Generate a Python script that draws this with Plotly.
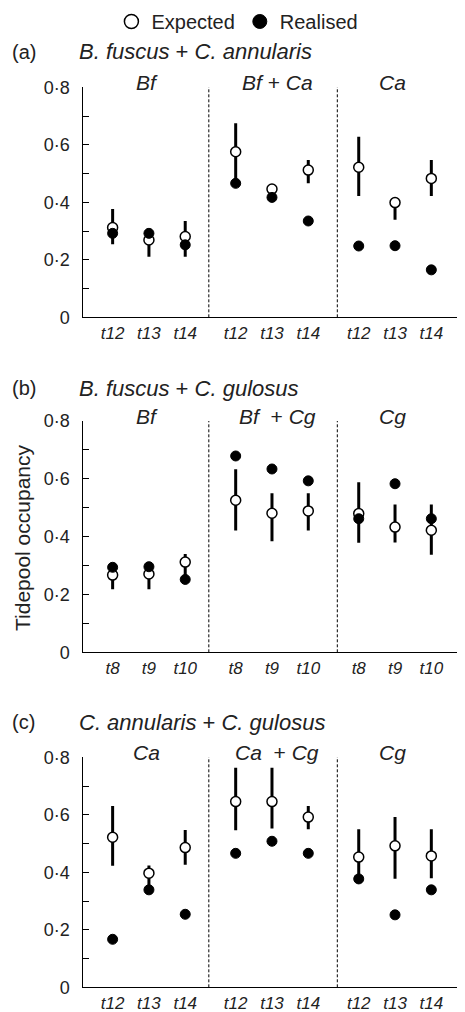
import plotly.graph_objects as go

PANEL_TAGS = ["(a)", "(b)", "(c)"]
PANEL_TITLES = [
    "<i>B. fuscus</i> + <i>C. annularis</i>",
    "<i>B. fuscus</i> + <i>C. gulosus</i>",
    "<i>C. annularis</i> + <i>C. gulosus</i>",
]
GROUP_LABELS = [
    ["<i>Bf</i>", "<i>Bf</i> + <i>Ca</i>", "<i>Ca</i>"],
    ["<i>Bf</i>", "<i>Bf</i>\u00a0 + <i>Cg</i>", "<i>Cg</i>"],
    ["<i>Ca</i>", "<i>Ca</i>\u00a0 + <i>Cg</i>", "<i>Cg</i>"],
]
TIMES = [["t12", "t13", "t14"], ["t8", "t9", "t10"], ["t12", "t13", "t14"]]
Y_TICKS = [0, 0.2, 0.4, 0.6, 0.8]
Y_TICK_TEXT = ["0", "0·2", "0·4", "0·6", "0·8"]

# Panel (a)
EXP_A = [0.312, 0.269, 0.281, 0.576, 0.446, 0.512, 0.522, 0.399, 0.483]
EXP_A_HI = [0.377, 0.300, 0.335, 0.675, 0.455, 0.547, 0.628, 0.414, 0.547]
EXP_A_LO = [0.254, 0.211, 0.211, 0.470, 0.430, 0.466, 0.422, 0.339, 0.422]
REAL_A = [0.292, 0.292, 0.252, 0.466, 0.417, 0.335, 0.248, 0.249, 0.165]
# Panel (b)
EXP_B = [0.267, 0.271, 0.312, 0.526, 0.481, 0.489, 0.480, 0.433, 0.422]
EXP_B_HI = [0.290, 0.290, 0.340, 0.633, 0.550, 0.550, 0.588, 0.511, 0.511]
EXP_B_LO = [0.218, 0.218, 0.260, 0.421, 0.384, 0.421, 0.379, 0.380, 0.337]
REAL_B = [0.294, 0.296, 0.252, 0.679, 0.634, 0.593, 0.462, 0.583, 0.462]
# Panel (c)
EXP_C = [0.522, 0.397, 0.486, 0.646, 0.646, 0.592, 0.453, 0.492, 0.457]
EXP_C_HI = [0.631, 0.424, 0.547, 0.764, 0.764, 0.631, 0.550, 0.592, 0.550]
EXP_C_LO = [0.423, 0.345, 0.426, 0.546, 0.552, 0.550, 0.380, 0.378, 0.379]
REAL_C = [0.167, 0.339, 0.254, 0.466, 0.508, 0.466, 0.377, 0.252, 0.339]

EXPECTED = [EXP_A, EXP_B, EXP_C]
EXPECTED_HI = [EXP_A_HI, EXP_B_HI, EXP_C_HI]
EXPECTED_LO = [EXP_A_LO, EXP_B_LO, EXP_C_LO]
REALISED = [REAL_A, REAL_B, REAL_C]

# The page body has an 8px margin; the figure is sized to fill the rest.
OFF = 8
W, H = 465 - OFF, 1012 - OFF
FONT = "Liberation Sans, Arial, sans-serif"
TXT = "#222222"


def px(x_img):
    return (x_img - OFF) / W


def py(y_img):
    return 1 - (y_img - OFF) / H


# layout geometry (image pixels)
X_LEFT, X_RIGHT = 82.5, 464.0
PANEL_TOP = [87.3, 421.0, 757.3]
PANEL_BOT = [317.3, 652.3, 987.3]
TAG_Y = [52, 388, 722]

G0, GSTEP = 0.83, 3.39
XMAX = 10.51
DIVIDERS = [3.48, 7.02]
LABEL_SHIFT = [-0.06, 0.14, -0.07]

OPEN_MARKER = dict(symbol="circle", color="white",
                   line=dict(color="black", width=1.5))
FILLED_MARKER = dict(symbol="circle", color="black",
                     line=dict(color="black", width=1))


def pos(g, i):
    return G0 + GSTEP * g + i


fig = go.Figure()
ann = []
shapes = []

# legend-only entries (larger symbols, as in the reference key)
fig.add_trace(go.Scatter(x=[None], y=[None], mode="markers", name="Expected",
                         marker=dict(size=14, **OPEN_MARKER), legendrank=1))
fig.add_trace(go.Scatter(x=[None], y=[None], mode="markers", name="Realised",
                         marker=dict(size=14, **FILLED_MARKER), legendrank=2))

for p in range(3):
    xa = "x" if p == 0 else f"x{p+1}"
    ya = "y" if p == 0 else f"y{p+1}"
    xs = [pos(g, i) for g in range(3) for i in range(3)]
    ticktext = [f"<i>{t}</i>" for g in range(3) for t in TIMES[p]]
    exp = EXPECTED[p]
    hi = [h - e for h, e in zip(EXPECTED_HI[p], exp)]
    lo = [e - l for l, e in zip(EXPECTED_LO[p], exp)]
    fig.add_trace(go.Scatter(
        x=xs, y=exp, mode="markers", xaxis=xa, yaxis=ya,
        name="Expected", showlegend=False,
        marker=dict(size=10, **OPEN_MARKER),
        error_y=dict(type="data", array=hi, arrayminus=lo, symmetric=False,
                     color="black", thickness=3, width=0),
        cliponaxis=False,
    ))
    fig.add_trace(go.Scatter(
        x=xs, y=REALISED[p], mode="markers", xaxis=xa, yaxis=ya,
        name="Realised", showlegend=False,
        marker=dict(size=10, **FILLED_MARKER),
        cliponaxis=False,
    ))

    xkey = "xaxis" if p == 0 else f"xaxis{p+1}"
    ykey = "yaxis" if p == 0 else f"yaxis{p+1}"
    fig.layout[xkey] = dict(
        domain=[px(X_LEFT), min(1.0, px(X_RIGHT))], range=[0, XMAX], anchor=ya,
        showgrid=False, zeroline=False, showline=True, linecolor="black",
        linewidth=1.2, tickmode="array", tickvals=xs, ticktext=ticktext,
        ticks="", tickfont=dict(family=FONT, size=17, color=TXT),
        ticklabelstandoff=0, fixedrange=True,
    )
    fig.layout[ykey] = dict(
        domain=[py(PANEL_BOT[p]), py(PANEL_TOP[p])], range=[0, 0.8], anchor=xa,
        showgrid=False, zeroline=False, showline=True, linecolor="black",
        linewidth=1.2, tickmode="array", tickvals=Y_TICKS,
        ticktext=Y_TICK_TEXT, ticks="inside", ticklen=6, tickwidth=1,
        tickcolor="black", tickfont=dict(family=FONT, size=18, color=TXT),
        ticklabelstandoff=8,
        minor=dict(tickmode="array", tickvals=[0.1, 0.3, 0.5, 0.7],
                   ticks="inside", ticklen=6, tickwidth=1, tickcolor="black"),
        fixedrange=True,
    )
    for d in DIVIDERS:
        shapes.append(dict(type="line", xref=xa, yref=ya, x0=d, x1=d,
                           y0=0, y1=0.81,
                           line=dict(color="black", width=1, dash="3px,2px")))
        shapes.append(dict(type="line", xref=xa, yref=ya, x0=d, x1=d,
                           y0=-0.018, y1=0,
                           line=dict(color="black", width=1.2)))
    shapes.append(dict(type="line", xref=xa, yref=ya, x0=XMAX - 0.02,
                       x1=XMAX - 0.02, y0=0, y1=0.02,
                       line=dict(color="black", width=1.2)))

    for g in range(3):
        ann.append(dict(xref=xa, yref=ya, x=pos(g, 1) + LABEL_SHIFT[g], y=0.8,
                        yshift=5, text=GROUP_LABELS[p][g], showarrow=False,
                        xanchor="center", yanchor="middle",
                        font=dict(family=FONT, size=21, color=TXT)))

    ann.append(dict(xref="paper", yref="paper", x=px(10), y=py(TAG_Y[p]),
                    text=PANEL_TAGS[p], showarrow=False, xanchor="left",
                    yanchor="middle", font=dict(family=FONT, size=20, color=TXT)))
    ann.append(dict(xref="paper", yref="paper", x=px(77), y=py(TAG_Y[p]),
                    text=PANEL_TITLES[p], showarrow=False, xanchor="left",
                    yanchor="middle", font=dict(family=FONT, size=22, color=TXT)))

ann.append(dict(xref="paper", yref="paper", x=px(22), y=py(538),
                text="Tidepool occupancy", textangle=-90, showarrow=False,
                xanchor="center", yanchor="middle",
                font=dict(family=FONT, size=21, color=TXT)))

fig.update_layout(
    width=W, height=H,
    margin=dict(l=0, r=0, t=0, b=0, autoexpand=False),
    paper_bgcolor="white", plot_bgcolor="white",
    annotations=ann, shapes=shapes,
    showlegend=True,
    legend=dict(orientation="h", x=0.502, xanchor="center", y=1.006,
                yanchor="top", font=dict(family=FONT, size=20, color=TXT),
                itemsizing="trace", bgcolor="rgba(0,0,0,0)",
                traceorder="normal"),
)

fig.write_html("out.html")
